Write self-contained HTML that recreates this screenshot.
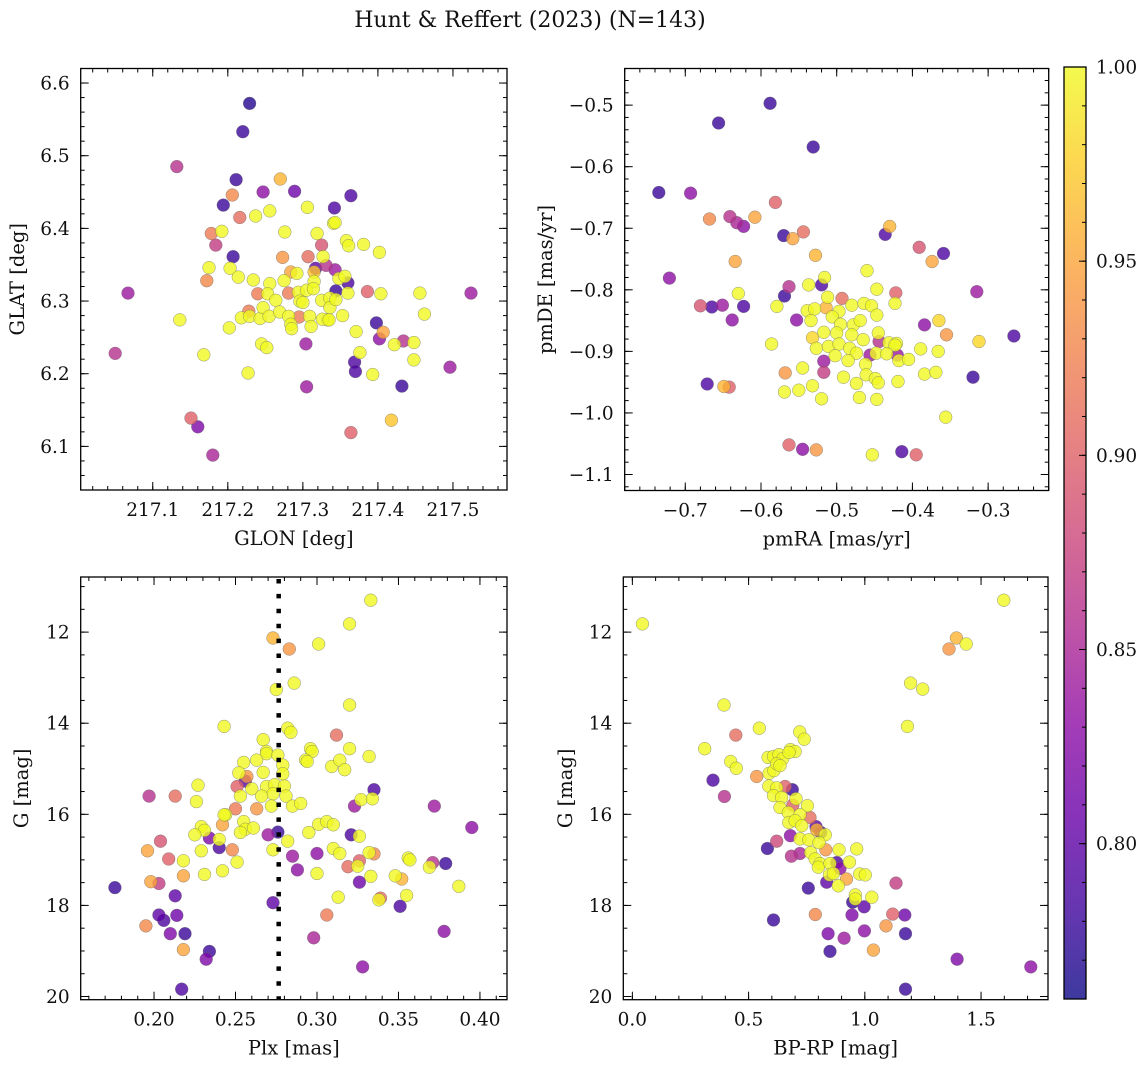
<!DOCTYPE html>
<html><head><meta charset="utf-8">
<style>
html,body{margin:0;padding:0;background:#fff;}
svg{display:block;}
text{font-family:"DejaVu Serif","Liberation Serif",serif;fill:#111;}
</style></head>
<body>
<svg id="fig" width="1148" height="1067" viewBox="0 0 1148 1067" xmlns="http://www.w3.org/2000/svg">
<defs>
<linearGradient id="plasmaGrad" x1="0" y1="1" x2="0" y2="0"></linearGradient>
</defs>
<text x="530" y="27" font-size="22" text-anchor="middle">Hunt &amp; Reffert (2023) (N=143)</text>
</svg>
<script>
// ---------- Panel 1 data: GLON / GLAT ----------
const glon = [217.229,217.220,217.132,217.211,217.270,217.247,217.289,217.206,217.364,217.194,217.306,217.342,217.216,217.237,217.256,217.341,217.343,217.192,217.178,217.184,217.276,217.319,217.325,217.358,217.361,217.381,217.402,217.207,217.273,217.307,217.327,
217.175,217.203,217.172,217.214,217.234,217.256,217.275,217.284,217.292,217.315,217.317,217.331,217.343,217.348,217.356,217.360,217.344,217.360,217.386,217.404,217.456,217.524,217.067,
217.240,217.253,217.264,217.281,217.294,217.305,217.296,217.300,217.315,217.314,217.325,217.336,217.336,217.344,217.353,217.371,217.333,
217.136,217.202,217.218,217.228,217.229,217.243,217.247,217.255,217.269,217.281,217.284,217.285,217.295,217.309,217.311,217.326,217.335,
217.245,217.252,217.304,217.168,217.227,217.305,217.376,217.369,217.370,217.398,217.402,217.407,217.422,217.434,217.448,217.448,217.462,217.496,217.432,217.393,217.418,217.364,217.151,217.160,217.180,217.050];
const glat = [6.572,6.533,6.485,6.467,6.468,6.450,6.451,6.446,6.445,6.432,6.429,6.428,6.415,6.417,6.424,6.407,6.408,6.396,6.393,6.377,6.395,6.393,6.377,6.383,6.376,6.378,6.367,6.361,6.360,6.361,6.361,
6.346,6.345,6.328,6.333,6.329,6.324,6.328,6.340,6.338,6.340,6.345,6.349,6.343,6.331,6.334,6.325,6.314,6.311,6.313,6.310,6.311,6.311,6.311,
6.310,6.310,6.301,6.311,6.312,6.315,6.300,6.298,6.327,6.317,6.301,6.304,6.291,6.302,6.280,6.258,6.274,
6.274,6.263,6.277,6.286,6.279,6.276,6.291,6.279,6.285,6.279,6.268,6.262,6.278,6.279,6.265,6.275,6.274,
6.241,6.236,6.241,6.226,6.201,6.182,6.229,6.216,6.203,6.270,6.248,6.257,6.240,6.245,6.243,6.219,6.282,6.209,6.183,6.199,6.136,6.119,6.139,6.127,6.088,6.228];
const prob1 = [0.77,0.78,0.86,0.78,0.96,0.83,0.81,0.93,0.79,0.78,1,0.79,0.91,1,1,1,1,1,0.92,0.87,1,1,0.89,1,1,1,1,0.78,0.94,0.91,1,
1,1,0.93,1,1,1,1,0.95,1,0.97,0.80,0.86,0.84,1,1,0.79,0.78,1,0.90,1,1,0.84,0.84,
0.92,1,1,0.92,1,1,1,1,1,1,1,1,1,1,1,1,1,
1,1,1,0.92,1,1,1,1,1,1,1,1,0.92,1,1,1,1,
1,1,0.84,1,1,0.84,1,0.79,0.79,0.78,0.83,0.95,1,0.86,1,1,1,0.84,0.78,1,0.97,0.90,0.90,0.82,0.85,0.86];

// ---------- Panel 2 data: pmRA / pmDE ----------
const pmra = [-0.588,-0.656,-0.531,-0.735,-0.693,-0.581,-0.668,-0.641,-0.632,-0.623,-0.608,-0.570,-0.558,-0.544,-0.430,-0.436,-0.391,-0.359,-0.374,-0.528,-0.634,-0.721,-0.460,-0.516,-0.537,-0.563,-0.520,-0.630,-0.569,-0.512,-0.493,-0.447,-0.422,-0.423,-0.315,-0.680,-0.665,-0.651,-0.623,-0.638,-0.579,-0.553,-0.539,-0.529,-0.514,-0.497,-0.480,-0.464,-0.454,-0.447,-0.506,-0.534,-0.495,-0.478,-0.469,-0.365,-0.384,-0.355,-0.312,-0.266,-0.586,-0.532,-0.517,-0.500,-0.480,-0.465,-0.445,-0.444,-0.431,-0.421,-0.423,-0.527,-0.511,-0.497,-0.483,-0.474,-0.456,-0.448,-0.434,-0.420,-0.418,-0.405,-0.389,-0.366,-0.517,-0.502,-0.485,-0.462,-0.545,-0.517,-0.568,-0.491,-0.474,-0.461,-0.449,-0.445,-0.419,-0.384,-0.369,-0.671,-0.649,-0.642,-0.569,-0.550,-0.532,-0.520,-0.470,-0.447,-0.320,-0.356,-0.563,-0.545,-0.527,-0.453,-0.414,-0.395];
const pmde = [-0.497,-0.529,-0.568,-0.642,-0.643,-0.658,-0.685,-0.681,-0.691,-0.697,-0.682,-0.712,-0.717,-0.706,-0.697,-0.710,-0.731,-0.741,-0.754,-0.744,-0.754,-0.781,-0.769,-0.780,-0.792,-0.795,-0.792,-0.806,-0.810,-0.812,-0.814,-0.799,-0.805,-0.822,-0.803,-0.826,-0.828,-0.825,-0.827,-0.849,-0.827,-0.849,-0.834,-0.831,-0.829,-0.835,-0.825,-0.822,-0.826,-0.841,-0.844,-0.850,-0.856,-0.857,-0.850,-0.850,-0.857,-0.873,-0.884,-0.875,-0.888,-0.878,-0.869,-0.870,-0.873,-0.881,-0.870,-0.884,-0.886,-0.887,-0.890,-0.895,-0.892,-0.888,-0.895,-0.903,-0.906,-0.903,-0.904,-0.906,-0.915,-0.913,-0.896,-0.900,-0.916,-0.907,-0.915,-0.921,-0.927,-0.934,-0.935,-0.942,-0.952,-0.938,-0.944,-0.951,-0.949,-0.937,-0.934,-0.953,-0.957,-0.958,-0.966,-0.963,-0.956,-0.977,-0.975,-0.978,-0.942,-1.007,-1.052,-1.059,-1.060,-1.068,-1.063,-1.068];
const prob2 = [0.78,0.78,0.78,0.78,0.83,0.90,0.93,0.86,0.85,0.83,0.95,0.78,0.95,0.91,0.96,0.79,0.89,0.79,0.95,0.96,0.95,0.83,1,1,1,0.86,0.79,1,0.78,1,0.91,1,0.90,1,0.84,0.89,0.79,0.84,0.79,0.83,1,0.83,1,1,0.96,1,1,1,1,1,1,1,1,1,1,0.98,0.83,0.94,0.98,0.79,1,0.98,1,1,1,1,1,0.86,1,1,1,1,1,1,1,1,0.84,1,1,0.84,1,1,1,1,0.84,1,1,1,1,0.87,0.94,1,1,1,1,1,1,1,1,0.79,0.96,0.90,1,1,1,1,1,1,0.78,1,0.90,0.83,0.94,1,0.79,0.90];

// ---------- Panel 3 data: Plx / G ----------
const plx = [0.333,0.320,0.273,0.283,0.301,0.286,0.275,0.320,0.243,0.282,0.284,0.312,0.267,0.320,0.332,0.296,0.297,0.269,0.269,0.293,0.294,0.309,0.314,0.317,0.263,0.255,0.276,0.279,0.279,0.267,0.252,0.257,0.256,0.251,0.227,0.260,0.269,0.274,0.280,0.273,0.266,0.281,0.253,0.197,0.213,0.226,0.335,0.327,0.334,0.323,0.372,0.272,0.263,0.285,0.290,0.250,0.244,0.243,0.242,0.255,0.256,0.261,0.253,0.229,0.231,0.225,0.234,0.240,0.240,0.270,0.276,0.282,0.295,0.301,0.306,0.310,0.321,0.326,0.395,0.204,0.196,0.229,0.248,0.273,0.285,0.300,0.310,0.314,0.332,0.335,0.356,0.357,0.371,0.369,0.379,0.209,0.218,0.251,0.288,0.319,0.326,0.325,0.300,0.231,0.242,0.218,0.198,0.203,0.176,0.326,0.333,0.348,0.352,0.387,0.213,0.273,0.313,0.339,0.338,0.355,0.351,0.203,0.206,0.214,0.306,0.195,0.210,0.219,0.298,0.378,0.218,0.234,0.232,0.328,0.217];
const gmag3 = [11.30,11.82,12.13,12.37,12.26,13.12,13.26,13.60,14.07,14.11,14.20,14.26,14.36,14.56,14.73,14.56,14.62,14.62,14.67,14.81,14.84,14.95,14.81,15.02,14.81,14.86,14.70,14.92,15.11,15.08,15.09,15.17,15.27,15.39,15.36,15.44,15.39,15.35,15.38,15.55,15.60,15.60,15.60,15.60,15.60,15.72,15.46,15.68,15.66,15.82,15.82,15.82,15.88,15.82,15.76,15.88,16.01,16.01,16.23,16.16,16.33,16.30,16.40,16.27,16.35,16.45,16.52,16.55,16.73,16.45,16.39,16.59,16.40,16.22,16.16,16.23,16.45,16.48,16.29,16.59,16.80,16.80,16.78,16.78,16.92,16.86,16.75,16.86,16.84,16.87,16.96,17.00,17.06,17.16,17.08,16.98,17.02,17.05,17.22,17.15,17.02,17.14,17.30,17.32,17.24,17.35,17.48,17.52,17.61,17.49,17.36,17.35,17.42,17.58,17.79,17.94,17.82,17.84,17.88,17.78,18.02,18.21,18.33,18.22,18.21,18.45,18.62,18.62,18.71,18.57,18.97,19.01,19.18,19.35,19.84];
const prob3 = [1,1,0.96,0.94,1,1,1,1,1,1,1,0.91,1,1,1,1,1,1,1,1,1,1,1,1,1,1,1,1,1,1,1,0.94,0.80,0.90,1,1,1,1,1,1,1,1,1,0.86,0.91,1,0.79,1,1,0.84,0.84,1,0.94,1,1,0.92,1,1,0.95,1,1,1,1,1,1,1,0.82,1,0.79,0.84,0.78,1,1,1,1,1,0.79,1,0.83,0.89,0.95,1,0.93,1,0.84,0.83,1,1,1,0.93,1,1,0.86,1,0.78,0.90,1,1,0.83,0.91,0.90,1,1,1,1,0.95,0.95,0.87,0.78,0.81,1,1,0.96,1,0.80,0.80,1,0.91,1,1,0.79,0.80,0.79,0.81,0.92,0.93,0.82,0.78,0.85,0.83,0.95,0.78,0.82,0.83,0.79];
const plxRef = [0.2765];

// ---------- Panel 4 data: BP-RP / G ----------
const bprp = [0.043,1.598,1.394,1.436,1.362,1.197,1.249,1.183,0.394,0.546,0.720,0.739,0.445,0.311,0.423,0.447,0.535,0.347,0.396,0.584,0.607,0.631,0.647,0.680,0.700,0.674,0.588,0.609,0.621,0.635,0.657,0.688,0.587,0.621,0.607,0.642,0.635,0.704,0.690,0.753,0.671,0.721,0.673,0.700,0.764,0.729,0.790,0.810,0.793,0.830,0.680,0.721,0.759,0.803,0.832,0.621,0.581,0.684,0.721,0.767,0.786,0.807,0.800,0.850,0.879,0.889,0.965,0.893,0.848,0.865,0.886,0.921,0.934,0.978,1.002,0.836,0.757,1.134,0.959,0.959,0.948,1.030,0.997,0.945,0.787,0.607,1.120,1.172,1.175,1.091,0.842,0.911,0.998,0.850,1.037,1.397,1.714,1.175];
const gmag4 = [11.82,11.30,12.13,12.26,12.37,13.12,13.25,14.07,13.60,14.11,14.19,14.35,14.26,14.56,14.84,14.99,15.17,15.25,15.61,14.75,14.73,14.69,14.78,14.58,14.62,14.64,15.10,15.04,14.89,14.93,15.39,15.46,15.38,15.42,15.59,15.63,15.85,15.66,15.80,15.81,15.96,16.01,16.18,16.14,16.07,16.25,16.27,16.40,16.34,16.45,16.47,16.54,16.56,16.62,16.78,16.59,16.75,16.92,16.86,16.84,16.98,17.08,17.16,17.08,17.06,16.78,16.76,17.19,17.33,17.30,17.57,17.42,17.05,17.31,17.33,17.49,17.62,17.51,17.77,17.86,17.93,17.82,18.03,18.21,18.20,18.32,18.19,18.21,18.62,18.45,18.62,18.72,18.56,19.01,18.98,19.18,19.35,19.84];
const prob4 = [1,1,0.96,1,0.94,1,1,1,1,1,1,1,0.91,1,1,1,0.94,0.79,0.86,1,1,1,1,1,1,1,1,1,1,1,0.90,0.78,1,1,1,1,1,1,0.90,1,1,1,1,1,0.91,1,0.80,0.78,0.96,1,0.83,1,1,1,0.94,0.88,0.78,0.86,0.85,1,1,1,1,1,0.79,1,1,0.83,1,1,1,0.95,1,1,1,0.80,0.78,0.87,1,1,0.78,1,0.80,0.82,0.93,0.78,0.90,0.81,0.78,0.94,0.82,0.84,0.83,0.78,0.95,0.82,0.83,0.78];

// ---------- tick labels ----------
const xt1 = [217.1,217.2,217.3,217.4,217.5], yt1 = [6.1,6.2,6.3,6.4,6.5,6.6];
const xt2 = [-0.7,-0.6,-0.5,-0.4,-0.3], yt2 = [-1.1,-1.0,-0.9,-0.8,-0.7,-0.6,-0.5];
const xt3 = [0.20,0.25,0.30,0.35,0.40], yt3 = [12,14,16,18,20];
const xt4 = [0.0,0.5,1.0,1.5], yt4 = [12,14,16,18,20];
const cbTicks = [0.80,0.85,0.90,0.95,1.00];
const vmin = 0.76, vmax = 1.0;

const NS = "http://www.w3.org/2000/svg";
const svg = document.getElementById('fig');
function mk(tag, attrs, parent){const e=document.createElementNS(NS,tag);for(const k in attrs)e.setAttribute(k,attrs[k]);(parent||svg).appendChild(e);return e;}

const plasmaStops = ['#0d0887','#41049d','#6a00a8','#8f0da4','#b12a90','#cc4778','#e16462','#f2844b','#fca636','#fcce25','#f0f921'];
function hex2rgb(h){return [parseInt(h.slice(1,3),16),parseInt(h.slice(3,5),16),parseInt(h.slice(5,7),16)];}
function plasma(t){t=Math.max(0,Math.min(1,t));const s=t*10,i=Math.min(9,Math.floor(s)),f=s-i;const a=hex2rgb(plasmaStops[i]),b=hex2rgb(plasmaStops[i+1]);return 'rgb('+a.map((v,k)=>Math.round(v+(b[k]-v)*f)).join(',')+')';}

const grad = document.getElementById('plasmaGrad');
plasmaStops.forEach((c,i)=>{const s=document.createElementNS(NS,'stop');s.setAttribute('offset',(i*10)+'%');s.setAttribute('stop-color',c);grad.appendChild(s);});

function fmt(v,d){const s=v.toFixed(d);return s.replace('-','\u2212');}

function panel(cfg){
  const {name,L,R,T,B,xd,yd,xticks,yticks,xminor,yminor,xdec,ydec,xlabel,ylabel,xs,ys,ps,yinv,ylabX} = cfg;
  const g = mk('g',{});
  
  
  const sx = v => L + (v-xd[0])/(xd[1]-xd[0])*(R-L);
  const sy = yinv ? (v => T + (v-yd[0])/(yd[1]-yd[0])*(B-T)) : (v => B - (v-yd[0])/(yd[1]-yd[0])*(B-T));
  const clip = mk('clipPath',{id:name+'-clip'},g);
  mk('rect',{x:L,y:T,width:R-L,height:B-T},clip);
  const idx = xs.map((_,i)=>i).sort((a,b)=>ps[a]-ps[b]);
  const pg = mk('g',{'clip-path':'url(#'+name+'-clip)'},g);
  
  
  idx.forEach(i=>{
    const c = mk('circle',{cx:sx(xs[i]).toFixed(1),cy:sy(ys[i]).toFixed(1),r:6.4,fill:plasma((ps[i]-vmin)/(vmax-vmin)),'fill-opacity':0.8,stroke:'#666','stroke-width':0.5,'stroke-opacity':0.7},pg);
    
    
  });
  if(cfg.extra) cfg.extra(g,sx,sy);
  const ticks = mk('g',{stroke:'#000','stroke-width':1},g);
  
  
  const xlo=Math.min(...xd), xhi=Math.max(...xd), ylo=Math.min(...yd), yhi=Math.max(...yd);
  for(let k=Math.ceil(xlo/xminor-1e-6); k*xminor<=xhi+1e-9; k++){const x=sx(k*xminor);mk('line',{x1:x,y1:B,x2:x,y2:B-4},ticks);mk('line',{x1:x,y1:T,x2:x,y2:T+4},ticks);}
  for(let k=Math.ceil(ylo/yminor-1e-6); k*yminor<=yhi+1e-9; k++){const y=sy(k*yminor);mk('line',{x1:L,y1:y,x2:L+4,y2:y},ticks);mk('line',{x1:R,y1:y,x2:R-4,y2:y},ticks);}
  xticks.forEach(v=>{const x=sx(v);mk('line',{x1:x,y1:B,x2:x,y2:B-8},ticks);mk('line',{x1:x,y1:T,x2:x,y2:T+8},ticks);
    const t=mk('text',{x:x,y:B+26,'font-size':18.5,'text-anchor':'middle'},g);t.textContent=fmt(v,xdec);
    
    });
  yticks.forEach(v=>{const y=sy(v);mk('line',{x1:L,y1:y,x2:L+8,y2:y},ticks);mk('line',{x1:R,y1:y,x2:R-8,y2:y},ticks);
    const t=mk('text',{x:L-11,y:y+6.5,'font-size':18.5,'text-anchor':'end'},g);t.textContent=fmt(v,ydec);
    
    });
  const fr = mk('rect',{x:L,y:T,width:R-L,height:B-T,fill:'none',stroke:'#000','stroke-width':1.3},g);
  
  
  const xl = mk('text',{x:(L+R)/2,y:B+55,'font-size':19.5,'text-anchor':'middle'},g); xl.textContent=xlabel;
  
  
  const cy=(T+B)/2;
  const yl = mk('text',{x:ylabX,y:cy,'font-size':19.5,'text-anchor':'middle',transform:'rotate(-90 '+ylabX+' '+cy+')'},g); yl.textContent=ylabel;
  
  
}

panel({name:'glon-glat-panel',L:80.7,R:507,T:68.5,B:490,xd:[217.004,217.572],yd:[6.040,6.620],xticks:xt1,yticks:yt1,xminor:0.02,yminor:0.02,xdec:1,ydec:1,xlabel:'GLON [deg]',ylabel:'GLAT [deg]',xs:glon,ys:glat,ps:prob1,ylabX:24});
panel({name:'pm-panel',L:624.7,R:1048.7,T:68.5,B:490.5,xd:[-0.780,-0.220],yd:[-1.126,-0.4405],xticks:xt2,yticks:yt2,xminor:0.02,yminor:0.02,xdec:1,ydec:1,xlabel:'pmRA [mas/yr]',ylabel:'pmDE [mas/yr]',xs:pmra,ys:pmde,ps:prob2,ylabX:552});
panel({name:'plx-g-panel',L:80.7,R:507,T:577,B:999.7,xd:[0.155,0.4166],yd:[10.79,20.07],xticks:xt3,yticks:yt3,xminor:0.01,yminor:0.5,xdec:2,ydec:0,xlabel:'Plx [mas]',ylabel:'G [mag]',xs:plx,ys:gmag3,ps:prob3,yinv:true,ylabX:28,
  extra:(g,sx,sy)=>{const x=sx(plxRef[0]);const l=mk('line',{x1:x,y1:579,x2:x,y2:999,stroke:'#000','stroke-width':4.5,'stroke-dasharray':'4.5 10.4'},g);
    
    }});
panel({name:'cmd-panel',L:623.3,R:1048,T:577,B:999.7,xd:[-0.039,1.788],yd:[10.79,20.07],xticks:xt4,yticks:yt4,xminor:0.1,yminor:0.5,xdec:1,ydec:0,xlabel:'BP-RP [mag]',ylabel:'G [mag]',xs:bprp,ys:gmag4,ps:prob4,yinv:true,ylabX:572});

(function(){
  const L=1064,R=1086,T=67,B=999;
  const g=mk('g',{});
  
  
  mk('rect',{x:L,y:T,width:R-L,height:B-T,fill:'url(#plasmaGrad)','fill-opacity':0.8},g);
  const cy=v=>B-(v-vmin)/(vmax-vmin)*(B-T);
  for(let k=Math.ceil(vmin*100);k<=100;k++){const y=cy(k/100);mk('line',{x1:R,y1:y,x2:R-4,y2:y,stroke:'#000','stroke-width':1},g);}
  cbTicks.forEach(v=>{const y=cy(v);mk('line',{x1:R,y1:y,x2:R-7,y2:y,stroke:'#000','stroke-width':1},g);
    const t=mk('text',{x:R+10,y:y+6.5,'font-size':18.5},g);t.textContent=v.toFixed(2);
    
    });
  mk('rect',{x:L,y:T,width:R-L,height:B-T,fill:'none',stroke:'#000','stroke-width':1.3},g);
})();
</script>
</body></html>
